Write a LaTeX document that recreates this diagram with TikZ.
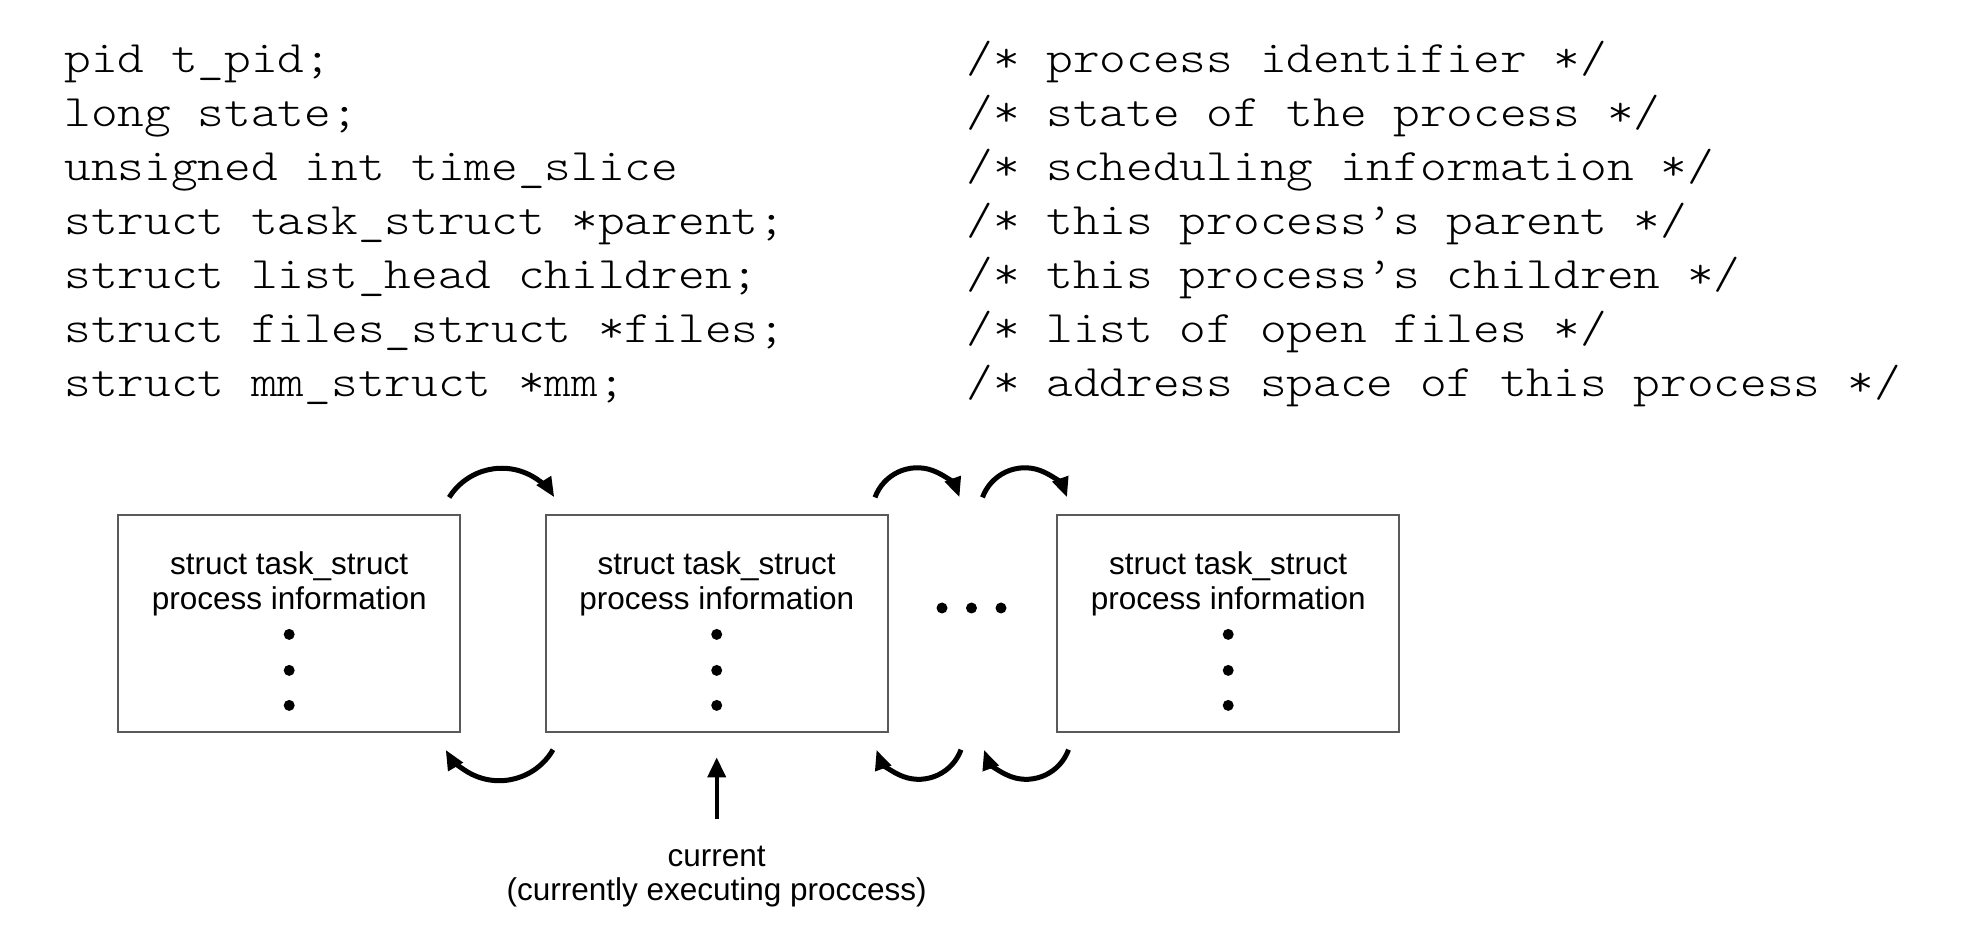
\documentclass[tikz,border=0pt]{standalone}
\usepackage{fontspec}
\setmainfont{Liberation Sans}
\newfontfamily\codefont[FakeStretch=1.13]{lmmonolt10-regular.otf}
\usetikzlibrary{arrows.meta,calc}
\begin{document}
\begin{tikzpicture}[x=0.5pt,y=0.5pt,
  code/.style={anchor=base west,inner sep=0pt,font=\codefont\fontsize{22.5}{26}\selectfont},
  taskbox/.style={draw=black!65,line width=1pt,minimum width=171pt,minimum height=108.5pt,inner sep=0pt},
  boxtext/.style={anchor=base,inner sep=0pt,font=\fontsize{15.75}{17}\selectfont},
  dot/.style={circle,fill=black,inner sep=0pt,minimum size=5.5pt},
  link/.style={line width=2.5pt,-{Triangle[length=10pt,width=8pt]}},
  ptr/.style={line width=2pt,-{Triangle[length=10pt,width=9pt]}}]
\useasboundingbox (0,0) rectangle (1965,-945);

% declarations of the task_struct fields
\node[code] (c1) at (64,-72.7)  {pid t\_pid;};
\node[code] (c2) at (64,-126.8) {long state;};
\node[code] (c3) at (64,-180.8) {unsigned int time\_slice};
\node[code] (c4) at (64,-234.9) {struct task\_struct *parent;};
\node[code] (c5) at (64,-288.9) {struct list\_head children;};
\node[code] (c6) at (64,-343)   {struct files\_struct *files;};
\node[code] (c7) at (64,-397)   {struct mm\_struct *mm;};

% comments
\node[code] (m1) at (966,-72.7)  {/* process identifier */};
\node[code] (m2) at (966,-126.8) {/* state of the process */};
\node[code] (m3) at (966,-180.8) {/* scheduling information */};
\node[code] (m4) at (966,-234.9) {/* this process’s parent */};
\node[code] (m5) at (966,-288.9) {/* this process’s children */};
\node[code] (m6) at (966,-343)   {/* list of open files */};
\node[code] (m7) at (966,-397)   {/* address space of this process */};

% the task list
\node[taskbox] (b1) at (289.2,-623.9) {};
\node[taskbox] (b2) at (716.7,-623.9) {};
\node[taskbox] (b3) at (1228.2,-623.9) {};

\foreach \b in {b1,b2,b3}{
  \node[boxtext] (\b t1) at ($(\b.north)+(0,-60)$) {struct task\_struct};
  \node[boxtext] (\b t2) at ($(\b.north)+(0,-95)$) {process information};
  \node[dot] (\b d1) at ($(\b.north)+(0,-120)$) {};
  \node[dot] (\b d2) at ($(\b.north)+(0,-156)$) {};
  \node[dot] (\b d3) at ($(\b.north)+(0,-191)$) {};
}

% elided entries
\node[dot] (e1) at (942,-608) {};
\node[dot] (e2) at (971.5,-608) {};
\node[dot] (e3) at (1001,-608) {};

% forward links
\draw[link] ($(b1.north east)+(-12,17)$) arc[start angle=148,end angle=32,radius=62];
\draw[link] ($(b2.north east)+(-13.7,17)$) arc[start angle=160,end angle=20,radius=45];
\draw[link] ($(b3.north west)+(-73.7,17)$) arc[start angle=160,end angle=20,radius=45];

% backward links
\draw[link] ($(b2.south west)+(8.3,-16.3)$) arc[start angle=-30,end angle=-150,radius=62];
\draw[link] ($(b2.south east)+(72.3,-16.3)$) arc[start angle=-20,end angle=-160,radius=45];
\draw[link] ($(b3.south west)+(12.3,-16.3)$) arc[start angle=-20,end angle=-160,radius=45];

% current pointer
\node[boxtext] (cur) at (716.7,-866) {current};
\node[boxtext] (curnote) at (716.7,-900) {(currently executing proccess)};
\coordinate (curtail) at (716.7,-819);
\draw[ptr] (curtail) -- ([yshift=-12pt]b2.south);
\end{tikzpicture}
\end{document}
